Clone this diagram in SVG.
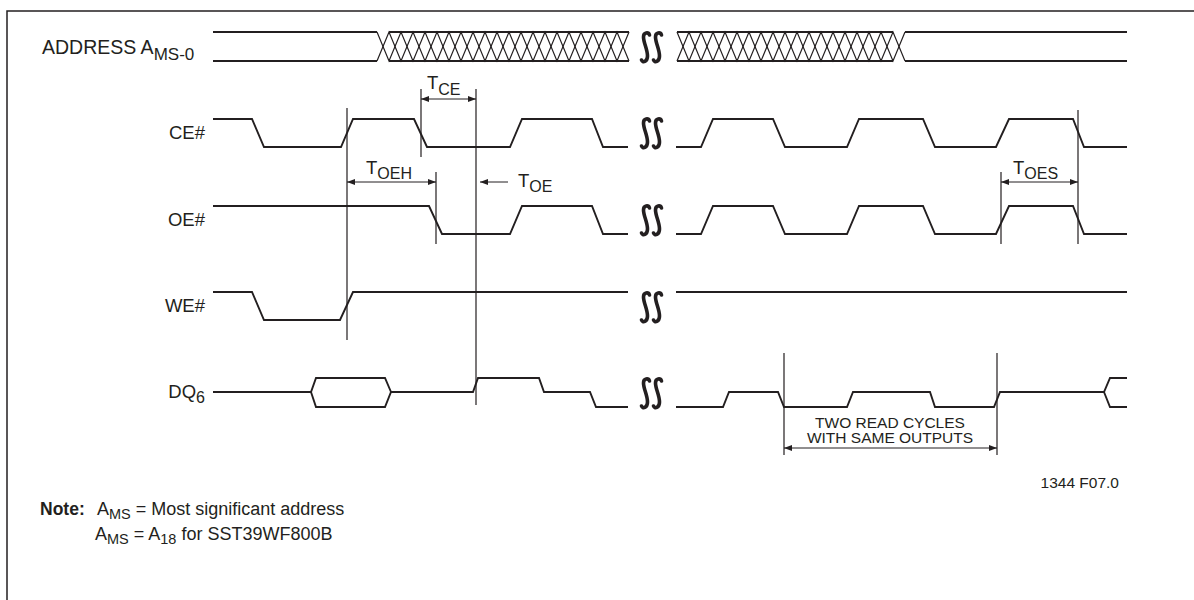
<svg xmlns="http://www.w3.org/2000/svg" xmlns:xlink="http://www.w3.org/1999/xlink" width="1194" height="600" viewBox="0 0 1194 600">
<style>
.sig{fill:none;stroke:#231f20;stroke-width:1.9;stroke-linejoin:miter}
.hat{fill:none;stroke:#231f20;stroke-width:1.2}
.ref{fill:none;stroke:#231f20;stroke-width:1.2}
.dim{fill:none;stroke:#231f20;stroke-width:1}
.brk{fill:none;stroke:#231f20;stroke-width:3.6;stroke-linecap:round}
text{font-family:"Liberation Sans",Arial,sans-serif;fill:#231f20}
.lbl{font-size:18.5px}
.sub{font-size:16px}
.small{font-size:15.5px}
</style>
<defs>
<marker id="ah" viewBox="0 0 8 6" refX="8" refY="3" markerWidth="8" markerHeight="6" markerUnits="userSpaceOnUse" orient="auto-start-reverse">
<path d="M0,0 L8,3 L0,6 z" fill="#231f20"/>
</marker>
<g id="brkmark">
<path class="brk" d="M9.5,3 C8.5,0 3.5,0 3.5,5 C3.5,11 7.5,17 7.5,24 C7.5,30 2.5,31 1.5,28"/>
<path class="brk" d="M21.5,3 C20.5,0 15.5,0 15.5,5 C15.5,11 19.5,17 19.5,24 C19.5,30 14.5,31 13.5,28"/>
</g>
</defs>
<rect width="1194" height="600" fill="#fff"/>
<g id="frame"><path d="M7,600 V11 H1194" fill="none" stroke="#231f20" stroke-width="1.5"/></g>

<g id="address">
<text x="42" y="54" style="font-size:19.5px">ADDRESS A<tspan class="sub" dy="6" style="font-size:17px">MS-0</tspan></text>
<path class="sig" d="M213,32 H377 M213,61 H377 M389,32 H629 M389,61 H629 M677,32 H893 M677,61 H893 M905,32 H1127 M905,61 H1127"/>
<polyline class="hat" points="377,32 389,61 401,32 413,61 425,32 437,61 449,32 461,61 473,32 485,61 497,32 509,61 521,32 533,61 545,32 557,61 569,32 581,61 593,32 605,61 617,32 629,61"/>
<polyline class="hat" points="377,61 389,32 401,61 413,32 425,61 437,32 449,61 461,32 473,61 485,32 497,61 509,32 521,61 533,32 545,61 557,32 569,61 581,32 593,61 605,32 617,61 629,32"/>
<polyline class="hat" points="677,32 689,61 701,32 713,61 725,32 737,61 749,32 761,61 773,32 785,61 797,32 809,61 821,32 833,61 845,32 857,61 869,32 881,61 893,32 905,61"/>
<polyline class="hat" points="677,61 689,32 701,61 713,32 725,61 737,32 749,61 761,32 773,61 785,32 797,61 809,32 821,61 833,32 845,61 857,32 869,61 881,32 893,61 905,32"/>
<use xlink:href="#brkmark" x="640" y="32"/>
</g>

<g id="ce">
<text class="lbl" x="205" y="139" text-anchor="end">CE#</text>
<path class="sig" d="M213,119 H252 L264,147 H341 L353,119 H414 L427,147 H510 L522,119 H592 L603,147 H628"/>
<path class="sig" d="M676,147 H701 L713,119 H773 L785,147 H847 L859,119 H923 L935,147 H996 L1009,119 H1073 L1084,147 H1127"/>
<use xlink:href="#brkmark" x="640" y="118"/>
</g>

<g id="oe">
<text class="lbl" x="205" y="226" text-anchor="end">OE#</text>
<path class="sig" d="M213,206 H429 L442,234 H510 L522,206 H592 L603,234 H628"/>
<path class="sig" d="M676,234 H701 L713,206 H773 L785,234 H847 L859,206 H923 L935,234 H996 L1009,206 H1073 L1084,234 H1127"/>
<use xlink:href="#brkmark" x="640" y="205"/>
</g>

<g id="we">
<text class="lbl" x="205" y="312" text-anchor="end">WE#</text>
<path class="sig" d="M213,292 H252 L264,320 H340 L353,292 H628 M676,292 H1127"/>
<use xlink:href="#brkmark" x="640" y="292"/>
</g>

<g id="dq6">
<text class="lbl" x="205" y="398" text-anchor="end">DQ<tspan class="sub" dy="5">6</tspan></text>
<path class="sig" d="M213,392 H311 L316,378 H385 L391,392 M311,392 L316,407 H385 L391,392 H473 L478,378 H539 L544,392 H590 L596,407 H628"/>
<path class="sig" d="M676,407 H723 L729,392 H778 L784,407 H847 L853,392 H930 L935,407 H994 L1000,392 H1104 L1110,378 H1127 M1104,392 L1110,407 H1127"/>
<use xlink:href="#brkmark" x="640" y="378"/>
</g>

<g id="connectors">
<path class="ref" d="M347,108 V340 M421,89 V157 M476,89 V405 M436,172 V244 M1001,172 V244 M1078,110 V244 M784,353 V455 M997,353 V455"/>
<line class="dim" x1="421" y1="99" x2="476" y2="99" marker-start="url(#ah)" marker-end="url(#ah)"/>
<line class="dim" x1="347" y1="182" x2="436" y2="182" marker-start="url(#ah)" marker-end="url(#ah)"/>
<line class="dim" x1="508" y1="182" x2="480" y2="182" marker-end="url(#ah)"/>
<line class="dim" x1="1001" y1="182" x2="1078" y2="182" marker-start="url(#ah)" marker-end="url(#ah)"/>
<line class="dim" x1="784" y1="448" x2="997" y2="448" marker-start="url(#ah)" marker-end="url(#ah)"/>
</g>

<g id="timing-labels">
<text class="lbl" x="427" y="89">T<tspan class="sub" dy="6">CE</tspan></text>
<text class="lbl" x="366" y="174">T<tspan class="sub" dy="5">OEH</tspan></text>
<text class="lbl" x="518" y="187">T<tspan class="sub" dy="5">OE</tspan></text>
<text class="lbl" x="1013" y="174">T<tspan class="sub" dy="5">OES</tspan></text>
<text class="small" x="890" y="428" text-anchor="middle">TWO READ CYCLES</text>
<text class="small" x="890" y="443" text-anchor="middle">WITH SAME OUTPUTS</text>
</g>

<g id="notes">
<text x="1119" y="488" text-anchor="end" style="font-size:15.5px">1344 F07.0</text>
<text x="40" y="515" style="font-size:17.5px;font-weight:bold">Note:</text>
<text x="97" y="515" style="font-size:18px">A<tspan dy="4" style="font-size:14.5px">MS</tspan><tspan dy="-4"> = Most significant address</tspan></text>
<text x="95" y="540" style="font-size:18px">A<tspan dy="4" style="font-size:14.5px">MS</tspan><tspan dy="-4"> = A</tspan><tspan dy="4" style="font-size:14.5px">18</tspan><tspan dy="-4"> for SST39WF800B</tspan></text>
</g>
</svg>
